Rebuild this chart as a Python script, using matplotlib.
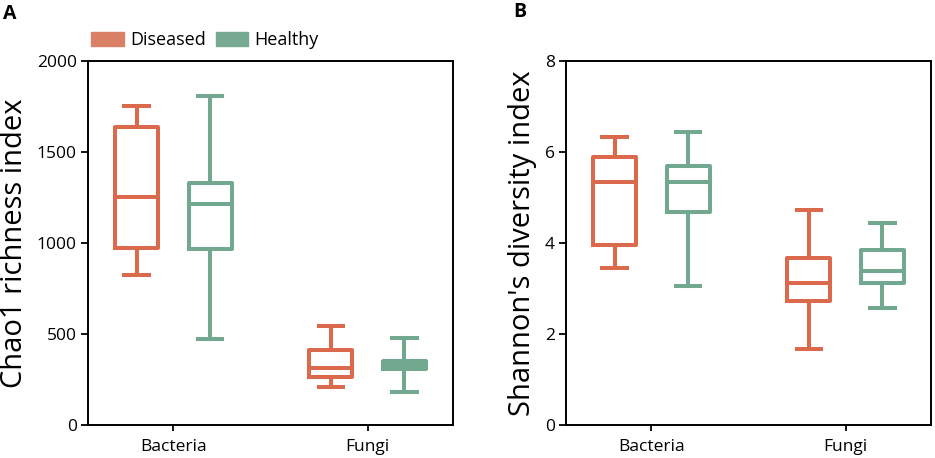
import matplotlib
matplotlib.use("Agg")
import matplotlib.pyplot as plt
from matplotlib.patches import Patch

plt.rcParams['font.family'] = ['Open Sans', 'DejaVu Sans']

categories = ["Bacteria", "Fungi"]
groups = ["Diseased", "Healthy"]

# Chao1: [whislo, q1, med, q3, whishi] per category
chao1_diseased = [[824, 971, 1254, 1635, 1753], [207, 262, 315, 412, 544]]
chao1_healthy = [[472, 965, 1214, 1331, 1808], [180, 306, 328, 352, 478]]

shannon_diseased = [[3.46, 3.96, 5.35, 5.88, 6.32], [1.67, 2.73, 3.11, 3.68, 4.72]]
shannon_healthy = [[3.05, 4.69, 5.33, 5.70, 6.44], [2.58, 3.13, 3.39, 3.85, 4.44]]

col_d = "#DB6A4C"
col_h = "#72A88F"
leg_d = "#D98066"
leg_h = "#78AA93"

fig = plt.figure(figsize=(9.35, 4.58), dpi=100)
axA = fig.add_axes([88/935, 33/458, 365/935, 364/458])
axB = fig.add_axes([566/935, 33/458, 365/935, 364/458])


def make_stats(vals):
    out = []
    for v in vals:
        out.append(dict(whislo=v[0], q1=v[1], med=v[2], q3=v[3], whishi=v[4], fliers=[]))
    return out


def draw(ax, dis, hea, ylim, yticks, ylabel):
    off = 0.19
    for data, col, sign in [(dis, col_d, -1), (hea, col_h, 1)]:
        pos = [i + sign * off for i in range(len(categories))]
        props = dict(color=col, linewidth=2.9)
        ax.bxp(make_stats(data), positions=pos, widths=0.22, capwidths=0.125,
               showfliers=False, boxprops=props, whiskerprops=props,
               capprops=props, medianprops=props, manage_ticks=False)
    ax.set_xlim(-0.44, 1.44)
    ax.set_ylim(*ylim)
    ax.set_yticks(yticks)
    ax.set_xticks(range(len(categories)))
    ax.set_xticklabels(categories, fontsize=12.5)
    ax.tick_params(axis='y', labelsize=12.5, length=5, width=1.3, pad=3)
    ax.tick_params(axis='x', length=4, width=1.3, pad=6)
    for s in ax.spines.values():
        s.set_linewidth(1.4)
    ax.set_ylabel(ylabel, fontsize=21, labelpad=6)


draw(axA, chao1_diseased, chao1_healthy, (0, 2000), [0, 500, 1000, 1500, 2000],
     "Chao1 richness index")
draw(axB, shannon_diseased, shannon_healthy, (0, 8), [0, 2, 4, 6, 8],
     "Shannon's diversity index")

handles = [Patch(facecolor=leg_d, edgecolor=leg_d), Patch(facecolor=leg_h, edgecolor=leg_h)]
fig.legend(handles, groups, loc='center left', bbox_to_anchor=(91/935, 1 - 40/458),
           ncol=2, frameon=False, fontsize=13, handlelength=1.8, handleheight=0.85,
           handletextpad=0.35, columnspacing=0.55, borderaxespad=0, borderpad=0)

fig.text(3/935, 1 - 14/458, "A", fontsize=14, fontweight='bold', va='center', ha='left')
fig.text(513/935, 1 - 12/458, "B", fontsize=14, fontweight='bold', va='center', ha='left')

fig.savefig("out.png", dpi=100)
